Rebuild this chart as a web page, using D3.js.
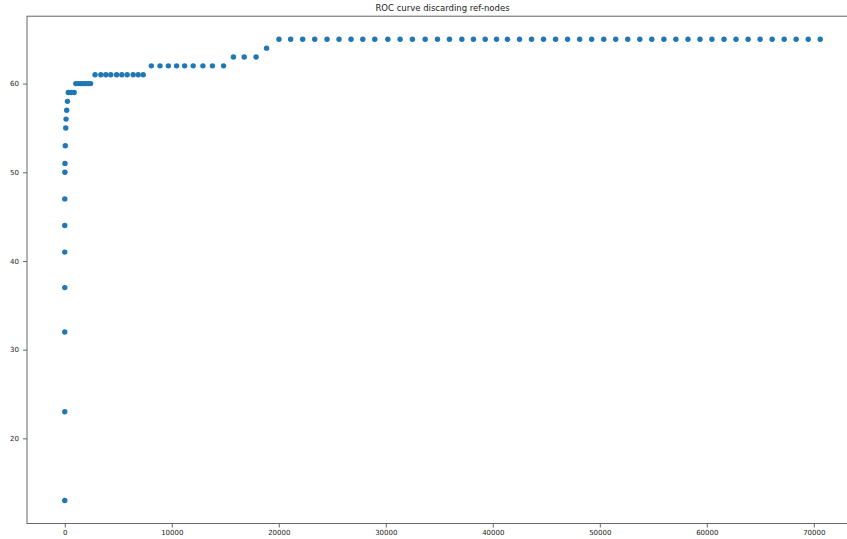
<!DOCTYPE html>
<html>
<head>
<meta charset="utf-8">
<script src="https://cdn.jsdelivr.net/npm/d3@7"></script>
<style>
  html, body { margin: 0; padding: 0; background: #fff; }
  svg { display: block; }
  text { font-family: "DejaVu Sans", sans-serif; fill: #222; }
</style>
</head>
<body>
<script>
// False positives (x) and detected nodes (y) for each threshold of the sweep
const falsePositives = [
  0, 0, 0, 0, 0, 0, 0, 10, 20, 50, 90, 120, 180, 250,
  330, 600, 880,
  1030, 1260, 1500, 1730, 1960, 2190, 2420,
  2830, 3370, 3840, 4300, 4840, 5330, 5830, 6390, 6860, 7330,
  8090, 8900, 9680, 10450, 11200, 12000, 12910, 13800, 14840,
  15760, 16770, 17880,
  18860,
  20020, 21110, 22230, 23360, 24510, 25630, 26750, 27850, 28970, 30190,
  31340, 32490, 33680, 34830, 35950, 37110, 38190, 39290, 40350, 41370,
  42500, 43620, 44740, 45870, 46990, 48120, 49240, 50370, 51490, 52610,
  53740, 54860, 55990, 57110, 58240, 59360, 60480, 61610, 62730, 63860,
  64980, 66110, 67230, 68350, 69480, 70600
];
const detected = [
  13, 23, 32, 37, 41, 44, 47, 50, 51, 53, 55, 56, 57, 58,
  59, 59, 59,
  60, 60, 60, 60, 60, 60, 60,
  61, 61, 61, 61, 61, 61, 61, 61, 61, 61,
  62, 62, 62, 62, 62, 62, 62, 62, 62,
  63, 63, 63,
  64,
  65, 65, 65, 65, 65, 65, 65, 65, 65, 65,
  65, 65, 65, 65, 65, 65, 65, 65, 65, 65,
  65, 65, 65, 65, 65, 65, 65, 65, 65, 65,
  65, 65, 65, 65, 65, 65, 65, 65, 65, 65,
  65, 65, 65, 65, 65, 65
];
const xTicks = [0, 10000, 20000, 30000, 40000, 50000, 60000, 70000];
const yTicks = [20, 30, 40, 50, 60];
const chartTitle = "ROC curve discarding ref-nodes";

const W = 847, H = 539;
const plot = { left: 27, right: 858, top: 16.2, bottom: 523.5 };

// pad each domain by 5% of the data span on both sides
function padded(values) {
  const [lo, hi] = d3.extent(values);
  const m = (hi - lo) * 0.05;
  return [lo - m, hi + m];
}

const x = d3.scaleLinear().domain(padded(falsePositives)).range([plot.left, plot.right]);
const y = d3.scaleLinear().domain(padded(detected)).range([plot.bottom, plot.top]);

const svg = d3.select("body").append("svg")
  .attr("width", W).attr("height", H);

svg.append("rect").attr("width", W).attr("height", H).attr("fill", "#fff");

// frame
svg.append("rect")
  .attr("x", plot.left).attr("y", plot.top)
  .attr("width", plot.right - plot.left).attr("height", plot.bottom - plot.top)
  .attr("fill", "none").attr("stroke", "#666").attr("stroke-width", 1);

// axes
const xAxis = d3.axisBottom(x).tickValues(xTicks).tickFormat(d3.format("d"))
  .tickSize(4).tickPadding(3);
const yAxis = d3.axisLeft(y).tickValues(yTicks).tickFormat(d3.format("d"))
  .tickSize(4).tickPadding(4);

const gx = svg.append("g").attr("transform", `translate(0,${plot.bottom})`).call(xAxis);
const gy = svg.append("g").attr("transform", `translate(${plot.left},0)`).call(yAxis);
[gx, gy].forEach(g => {
  g.select(".domain").remove();
  g.selectAll(".tick line").attr("stroke", "#666");
  g.selectAll(".tick text").attr("font-size", 7).attr("fill", "#333")
    .attr("font-family", "DejaVu Sans, sans-serif");
});

// points
svg.append("g").selectAll("circle")
  .data(d3.zip(falsePositives, detected))
  .join("circle")
  .attr("cx", d => x(d[0]))
  .attr("cy", d => y(d[1]))
  .attr("r", 2.7)
  .attr("fill", "#1f77b4");

// title
svg.append("text")
  .attr("x", (plot.left + plot.right) / 2)
  .attr("y", 11)
  .attr("text-anchor", "middle")
  .attr("font-size", 8.5)
  .text(chartTitle);
</script>
</body>
</html>
